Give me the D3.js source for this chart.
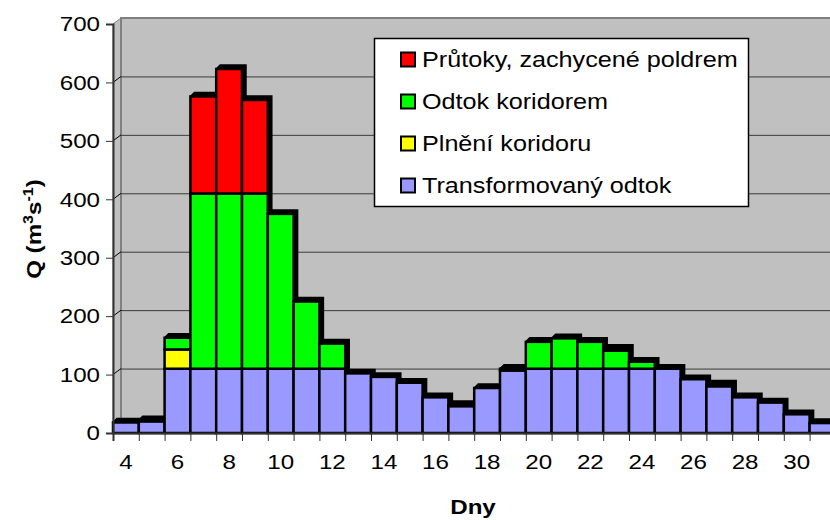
<!DOCTYPE html>
<html>
<head>
<meta charset="utf-8">
<script src="https://cdn.jsdelivr.net/npm/d3@7"></script>
<style>
  body { margin: 0; background: #fff; }
  text { font-family: "Liberation Sans", Arial, sans-serif; }
</style>
</head>
<body>
<div id="chart"></div>
<script>
// days on the x axis
var days = [4, 5, 6, 7, 8, 9, 10, 11, 12, 13, 14, 15, 16, 17, 18, 19, 20, 21, 22, 23, 24, 25, 26, 27, 28, 29, 30, 31];
var dayLabels = [4, 6, 8, 10, 12, 14, 16, 18, 20, 22, 24, 26, 28, 30];
var yTicks = [0, 100, 200, 300, 400, 500, 600, 700];

// series (m3/s)
var transformovany = [18, 20, 110, 110, 110, 110, 110, 110, 110, 102, 96, 86, 61, 46, 77, 107, 110, 110, 110, 110, 110, 110, 92, 80, 61, 52, 32, 17];
var plneni =         [0, 0, 33, 0, 0, 0, 0, 0, 0, 0, 0, 0, 0, 0, 0, 0, 0, 0, 0, 0, 0, 0, 0, 0, 0, 0, 0, 0];
var odtokKoridorem = [0, 0, 20, 300, 300, 300, 265, 115, 43, 0, 0, 0, 0, 0, 0, 0, 46, 52, 46, 31, 12, 0, 0, 0, 0, 0, 0, 0];
var zachycene =      [0, 2, 0, 166, 213, 160, 0, 0, 0, 0, 0, 0, 0, 2, 0, 3, 0, 0, 0, 3, 0, 0, 0, 3, 0, 0, 0, 0];

var seriesNames = ["Transformovaný odtok", "Plnění koridoru", "Odtok koridorem", "Průtoky, zachycené poldrem"];
var seriesColors = ["#9999ff", "#ffff00", "#00ff00", "#ff0000"];

var width = 830, height = 520;
var left = 113, step = 25.8;
var wallDx = 8, wallDy = 6;   // depth of back wall
var barDx = 4, barDy = 4;     // depth of the columns
var stretch = 1.15;           // text in the original is drawn wide

var svg = d3.select("#chart").append("svg")
    .attr("width", width)
    .attr("height", height)
    .style("display", "block");

var x = d3.scaleBand().domain(days).range([left, left + days.length * step]).padding(0);
var y = d3.scaleLinear().domain([0, 700]).range([433, 24]);
var xEdge = d3.scaleLinear().domain([3.5, 31.5]).range([left, left + days.length * step]);

// build stacked table
var table = days.map(function(d, i) {
    var r = { day: d };
    r[seriesNames[0]] = transformovany[i];
    r[seriesNames[1]] = plneni[i];
    r[seriesNames[2]] = odtokKoridorem[i];
    r[seriesNames[3]] = zachycene[i];
    return r;
});
var stacked = d3.stack().keys(seriesNames)(table);

// walls
var y0 = y(0), yTop = y(700);
svg.append("polygon")
    .attr("points", [[left, y0], [left + wallDx, y0 - wallDy], [width + 20, y0 - wallDy], [width + 20, y0]].join(" "))
    .attr("fill", "#c0c0c0").attr("stroke", "#808080");
svg.append("polygon")
    .attr("points", [[left, yTop], [left + wallDx, yTop - wallDy], [left + wallDx, y0 - wallDy], [left, y0]].join(" "))
    .attr("fill", "#c0c0c0").attr("stroke", "#808080");
svg.append("rect")
    .attr("x", left + wallDx).attr("y", yTop - wallDy)
    .attr("width", width).attr("height", y0 - yTop)
    .attr("fill", "#c0c0c0").attr("stroke", "#808080").attr("stroke-width", 2);

// gridlines on back wall and side wall
yTicks.filter(function(v) { return v > 0 && v < 700; }).forEach(function(v) {
    svg.append("line")
        .attr("x1", left + wallDx).attr("x2", width + 10)
        .attr("y1", y(v) - wallDy + 0.5).attr("y2", y(v) - wallDy + 0.5)
        .attr("stroke", "#3a3a3a").attr("stroke-width", 1);
    svg.append("line")
        .attr("x1", left).attr("x2", left + wallDx)
        .attr("y1", y(v)).attr("y2", y(v) - wallDy)
        .attr("stroke", "#000").attr("stroke-width", 1);
});

// columns, left to right
var bars = svg.append("g");
days.forEach(function(d, i) {
    var x0 = x(d), x1 = x(d) + x.bandwidth();
    var total = stacked[stacked.length - 1][i][1];
    var yt = y(total);
    bars.append("polygon")
        .attr("points", [[x0, yt], [x0 + barDx, yt - barDy], [x1 + barDx, yt - barDy], [x1 + barDx, y0 - barDy], [x1, y0]].join(" "))
        .attr("fill", "#000").attr("stroke", "#000").attr("stroke-width", 1.5);
    stacked.forEach(function(s, k) {
        var seg = s[i];
        if (seg[1] - seg[0] <= 0) return;
        bars.append("rect")
            .attr("x", x0).attr("y", y(seg[1]))
            .attr("width", x.bandwidth()).attr("height", y(seg[0]) - y(seg[1]))
            .attr("fill", seriesColors[k])
            .attr("stroke", "#000").attr("stroke-width", 2.5);
    });
});

// y axis
var yAxis = svg.append("g")
    .attr("transform", "translate(" + left + ",0)")
    .call(d3.axisLeft(y).tickValues(yTicks).tickSize(7).tickPadding(5));
yAxis.select(".domain").attr("stroke", "#333").attr("stroke-width", 2);
yAxis.selectAll(".tick line").attr("stroke", "#333");
yAxis.selectAll("text")
    .attr("x", -13 / stretch)
    .attr("transform", "scale(" + stretch + ",1)")
    .attr("font-size", 21).attr("fill", "#000")
    .style("font-family", "'Liberation Sans', Arial, sans-serif");

// x axis: ticks at category edges, labels every second day
var xTickAxis = svg.append("g")
    .attr("transform", "translate(0," + y0 + ")")
    .call(d3.axisBottom(xEdge).tickValues(d3.range(3.5, 32, 1)).tickSize(8).tickFormat(""));
xTickAxis.select(".domain").attr("stroke", "#333").attr("stroke-width", 2);
xTickAxis.selectAll(".tick line").attr("stroke", "#333");

var xLabelAxis = svg.append("g")
    .attr("transform", "translate(0," + y0 + ")")
    .call(d3.axisBottom(x).tickValues(dayLabels).tickSize(0).tickPadding(21));
xLabelAxis.select(".domain").remove();
xLabelAxis.selectAll("text")
    .attr("transform", "scale(" + stretch + ",1)")
    .attr("font-size", 21).attr("fill", "#000")
    .style("font-family", "'Liberation Sans', Arial, sans-serif");

// axis titles
svg.append("text")
    .attr("transform", "translate(473,514) scale(" + stretch + ",1)")
    .attr("text-anchor", "middle")
    .attr("font-size", 21).attr("font-weight", "bold")
    .text("Dny");

var yt = svg.append("text")
    .attr("transform", "translate(41,229) rotate(-90) scale(" + stretch + ",1)")
    .attr("text-anchor", "middle")
    .attr("font-size", 21).attr("font-weight", "bold");
yt.append("tspan").text("Q (m");
yt.append("tspan").attr("dy", -8).attr("font-size", 14).text("3");
yt.append("tspan").attr("dy", 8).text("s");
yt.append("tspan").attr("dy", -8).attr("font-size", 14).text("-1");
yt.append("tspan").attr("dy", 8).text(")");

// legend
var legend = svg.append("g");
legend.append("rect")
    .attr("x", 374.5).attr("y", 38.5)
    .attr("width", 374).attr("height", 168)
    .attr("fill", "#fff").attr("stroke", "#000").attr("stroke-width", 1.5);
var legendOrder = [3, 2, 1, 0];
legendOrder.forEach(function(k, j) {
    var cy = 59.5 + j * 42;
    legend.append("rect")
        .attr("x", 401).attr("y", cy - 7)
        .attr("width", 14).attr("height", 14)
        .attr("fill", seriesColors[k]).attr("stroke", "#000").attr("stroke-width", 2);
    legend.append("text")
        .attr("transform", "translate(422," + cy + ") scale(1.145,1)")
        .attr("dy", "0.36em")
        .attr("font-size", 22)
        .text(seriesNames[k]);
});
</script>
</body>
</html>
